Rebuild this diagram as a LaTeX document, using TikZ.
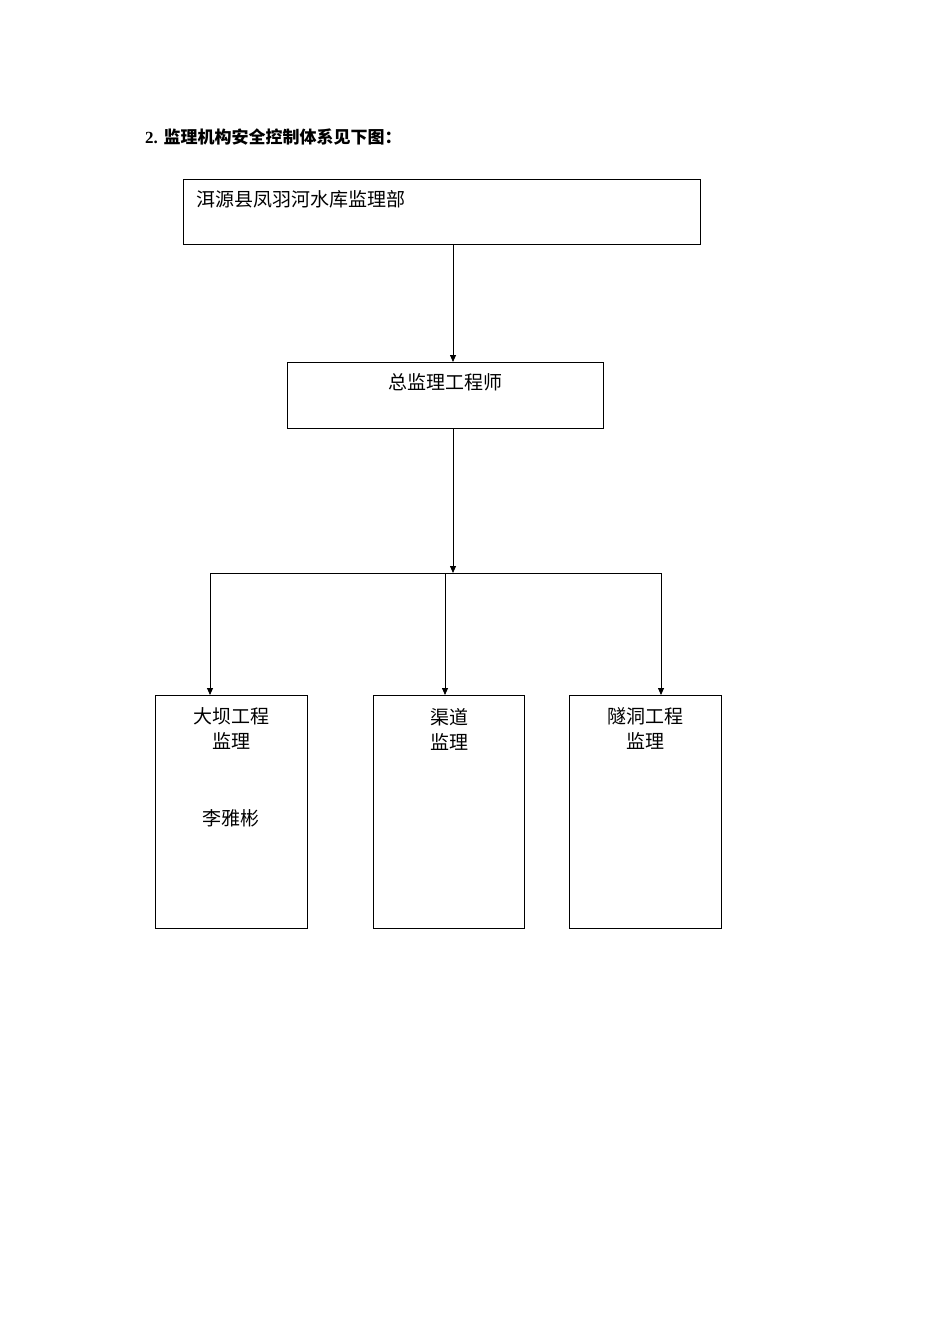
\documentclass[tikz,border=0pt]{standalone}
\usepackage{fontspec}
\setmainfont{Liberation Serif}
\newfontfamily\cjk{Noto Sans CJK SC}
\usetikzlibrary{arrows.meta}
\begin{document}
\begin{tikzpicture}[x=1pt,y=-1pt,
  box/.style={draw,line width=0.8pt},
  lbl/.style={font=\cjk\fontsize{19}{25}\selectfont,align=center,inner sep=0pt},
  arr/.style={-{Triangle[length=7pt,width=6pt]},line width=0.8pt},
  ln/.style={line width=0.8pt}]
\useasboundingbox (0,0) rectangle (950,1344);
\node[anchor=west,inner sep=0pt,font=\bfseries\fontsize{17}{20}\selectfont] (title) at (145,137) {2. {\cjk\bfseries 监理机构安全控制体系见下图：}};
\draw[box] (183,179) rectangle (700,244);
\node[box,draw=none,minimum width=517pt,minimum height=65pt,inner sep=0pt] (top) at (441.5,211.5) {};
\node[lbl,anchor=west] (toptext) at (196,199) {洱源县凤羽河水库监理部};
\node[box,minimum width=316pt,minimum height=66pt,inner sep=0pt] (chief) at (445,395) {};
\node[lbl] (chieftext) at (445,382) {总监理工程师};
\coordinate (c1) at (453,244);
\coordinate (c2) at (453,362);
\draw[arr] (c1) -- (c2);
\coordinate (j1) at (453,428);
\coordinate (j2) at (453,573);
\draw[arr] (j1) -- (j2);
\coordinate (hl) at (210,573);
\coordinate (hm) at (445,573);
\coordinate (hr) at (661,573);
\draw[ln] (hl) -- (hr);
\node[box,minimum width=152pt,minimum height=233pt,inner sep=0pt] (b1) at (231,811.5) {};
\node[box,minimum width=151pt,minimum height=233pt,inner sep=0pt] (b2) at (448.5,811.5) {};
\node[box,minimum width=152pt,minimum height=233pt,inner sep=0pt] (b3) at (645,811.5) {};
\coordinate (e1) at (210,695);
\coordinate (e2) at (445,695);
\coordinate (e3) at (661,695);
\draw[arr] (hl) -- (e1);
\draw[arr] (hm) -- (e2);
\draw[arr] (hr) -- (e3);
\node[lbl] (t1) at (231,729) {大坝工程\\监理};
\node[lbl] (t1b) at (231,818) {李雅彬};
\node[lbl] (t2) at (449,729) {渠道\\监理};
\node[lbl] (t3) at (645,729) {隧洞工程\\监理};
\end{tikzpicture}
\end{document}
